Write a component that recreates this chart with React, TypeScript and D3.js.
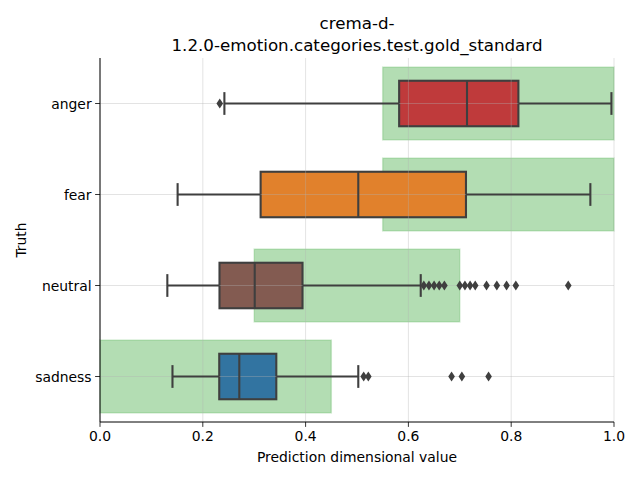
import React from "react";
import * as d3 from "d3";

const categories = ["anger", "fear", "neutral", "sadness"];
const whiskerLow = [0.242, 0.151, 0.131, 0.141];
const q1 = [0.582, 0.3125, 0.2325, 0.232];
const median = [0.714, 0.5025, 0.301, 0.271];
const q3 = [0.814, 0.712, 0.394, 0.343];
const whiskerHigh = [0.995, 0.954, 0.624, 0.5025];
const outliers = [
  [0.233],
  [],
  [0.63, 0.64, 0.65, 0.66, 0.67, 0.70, 0.71, 0.72, 0.73, 0.752, 0.772, 0.791, 0.809, 0.911],
  [0.513, 0.522, 0.684, 0.704, 0.756],
];
const goldLow = [0.55, 0.55, 0.3, 0.0];
const goldHigh = [1.0, 1.0, 0.7, 0.45];
const boxColors = ["#bf3a3b", "#e1812c", "#835b51", "#3274a1"];
const xTicks = [0, 0.2, 0.4, 0.6, 0.8, 1.0];

const W = 640, H = 480;
const L = 100, R = 614, T = 58, B = 422;
const FONT = "DejaVu Sans, sans-serif";
const LINE = "#3f3f3f";

export default function App() {
  const x = d3.scaleLinear().domain([0, 1]).range([L, R]);
  const y = d3.scaleBand().domain(categories).range([T, B]).padding(0);
  const bw = y.bandwidth();
  const boxH = bw * 0.5;
  const goldH = bw * 0.8;
  const capH = boxH * 0.5;
  const cyOf = (c: string) => (y(c) as number) + bw / 2;
  const diamond = (cx: number, cy: number) =>
    `M${cx},${cy - 5}L${cx + 3.3},${cy}L${cx},${cy + 5}L${cx - 3.3},${cy}Z`;

  return (
    <svg width={W} height={H} style={{ position: "absolute", left: 0, top: 0, background: "#fff" }} fontFamily={FONT}>
      {categories.map((c, i) => {
        const cy = cyOf(c);
        return (
          <rect key={"g" + c} x={x(goldLow[i])} y={cy - goldH / 2} width={x(goldHigh[i]) - x(goldLow[i])} height={goldH}
            fill="#2ca02c" fillOpacity={0.36} stroke="#2ca02c" strokeOpacity={0.2} strokeWidth={1.5} />
        );
      })}
      {categories.map((c, i) => {
        const cy = cyOf(c);
        return (
          <rect key={"r" + c} x={x(q1[i])} y={cy - boxH / 2} width={x(q3[i]) - x(q1[i])} height={boxH}
            fill={boxColors[i]} stroke={LINE} strokeWidth={2.1} />
        );
      })}
      <g stroke="#b0b0b0" strokeOpacity={0.45} strokeWidth={0.8}>
        {xTicks.map((t) => (
          <line key={"gx" + t} x1={x(t)} x2={x(t)} y1={T} y2={B} />
        ))}
        {categories.map((c) => {
          const cy = cyOf(c);
          return <line key={"gy" + c} x1={L} x2={R} y1={cy} y2={cy} />;
        })}
      </g>
      {categories.map((c, i) => {
        const cy = cyOf(c);
        return (
          <g key={"b" + c} stroke={LINE} strokeWidth={2.1}>
            <line x1={x(whiskerLow[i])} x2={x(q1[i])} y1={cy} y2={cy} />
            <line x1={x(q3[i])} x2={x(whiskerHigh[i])} y1={cy} y2={cy} />
            <line x1={x(whiskerLow[i])} x2={x(whiskerLow[i])} y1={cy - capH / 2} y2={cy + capH / 2} />
            <line x1={x(whiskerHigh[i])} x2={x(whiskerHigh[i])} y1={cy - capH / 2} y2={cy + capH / 2} />
            <line x1={x(median[i])} x2={x(median[i])} y1={cy - boxH / 2} y2={cy + boxH / 2} />
            {outliers[i].map((v, j) => (
              <path key={j} d={diamond(x(v), cy)} fill={LINE} stroke="none" />
            ))}
          </g>
        );
      })}
      <line x1={L} x2={L} y1={T} y2={B} stroke="#000" strokeWidth={1} />
      <line x1={L} x2={R} y1={B} y2={B} stroke="#000" strokeWidth={1} />
      {xTicks.map((t) => (
        <g key={"tx" + t}>
          <line x1={x(t)} x2={x(t)} y1={B} y2={B + 4.9} stroke="#000" strokeWidth={0.8} />
          <text x={x(t)} y={B + 19} fontSize={13.9} textAnchor="middle" fill="#000">{t.toFixed(1)}</text>
        </g>
      ))}
      {categories.map((c) => {
        const cy = cyOf(c);
        return (
          <g key={"ty" + c}>
            <line x1={L - 4.9} x2={L} y1={cy} y2={cy} stroke="#000" strokeWidth={0.8} />
            <text x={L - 8.4} y={cy + 5} fontSize={13.9} textAnchor="end" fill="#000">{c}</text>
          </g>
        );
      })}
      <text x={(L + R) / 2} y={462} fontSize={13.9} textAnchor="middle" fill="#000">Prediction dimensional value</text>
      <text transform={`translate(26,${(T + B) / 2}) rotate(-90)`} fontSize={13.9} textAnchor="middle" fill="#000">Truth</text>
      <text x={(L + R) / 2} y={29} fontSize={16.7} textAnchor="middle" fill="#000">crema-d-</text>
      <text x={(L + R) / 2} y={51} fontSize={16.7} textAnchor="middle" fill="#000">1.2.0-emotion.categories.test.gold_standard</text>
    </svg>
  );
}
